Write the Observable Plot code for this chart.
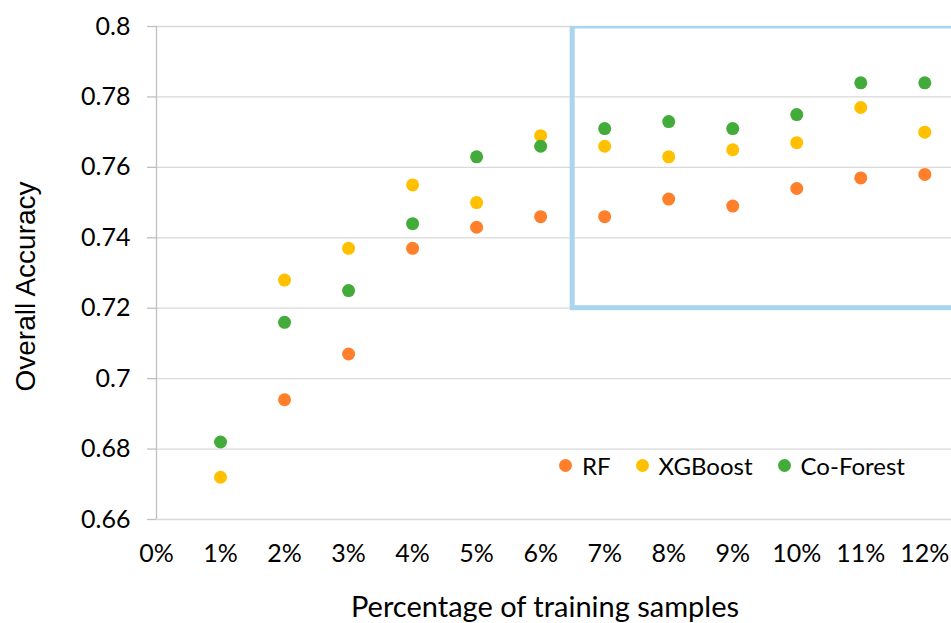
<!DOCTYPE html>
<html>
<head>
<meta charset="utf-8">
<script src="https://cdn.jsdelivr.net/npm/d3@7"></script>
<script src="https://cdn.jsdelivr.net/npm/@observablehq/plot@0.6"></script>
<style>
  html, body { margin: 0; padding: 0; background: #fff; }
  #wrap { position: relative; width: 951px; height: 623px; overflow: hidden; font-family: Lato, "Open Sans", sans-serif; }
  #legend { position: absolute; left: 559px; top: 451px; display: flex; align-items: center; font-size: 24px; color: #000; white-space: nowrap; }
  #legend .item { display: flex; align-items: center; margin-right: 25px; }
  #legend .sw { width: 13px; height: 13px; border-radius: 50%; margin-right: 10px; }
</style>
</head>
<body>
<div id="wrap"></div>
<script>
// ---- data ----
const percents = [1, 2, 3, 4, 5, 6, 7, 8, 9, 10, 11, 12];
const rfValues      = [null, 0.694, 0.707, 0.737, 0.743, 0.746, 0.746, 0.751, 0.749, 0.754, 0.757, 0.758];
const xgboostValues = [0.672, 0.728, 0.737, 0.755, 0.750, 0.769, 0.766, 0.763, 0.765, 0.767, 0.777, 0.770];
const coForestValues= [0.682, 0.716, 0.725, 0.744, 0.763, 0.766, 0.771, 0.773, 0.771, 0.775, 0.784, 0.784];
const seriesNames = ["RF", "XGBoost", "Co-Forest"];
const seriesColors = ["#ff7f2a", "#ffc000", "#43ab3a"];
const xTicks = [0, 1, 2, 3, 4, 5, 6, 7, 8, 9, 10, 11, 12];
const xTickLabels = ["0%", "1%", "2%", "3%", "4%", "5%", "6%", "7%", "8%", "9%", "10%", "11%", "12%"];
const yTicks = [0.66, 0.68, 0.70, 0.72, 0.74, 0.76, 0.78, 0.80];
const yTickLabels = ["0.66", "0.68", "0.7", "0.72", "0.74", "0.76", "0.78", "0.8"];
const highlight = [{x1: 6.5, x2: 13.5, y1: 0.72, y2: 0.80}];
const xTitle = "Percentage of training samples";
const yTitle = "Overall Accuracy";

// ---- build table ----
const allSeries = [rfValues, xgboostValues, coForestValues];
const points = [];
allSeries.forEach((vals, si) => {
  vals.forEach((v, i) => {
    if (v != null) points.push({x: percents[i], y: v, series: seriesNames[si]});
  });
});

const W = 951, H = 623;
const chart = Plot.plot({
  width: W,
  height: H,
  marginLeft: 156,
  marginRight: 0,
  marginTop: 26,
  marginBottom: 104,
  x: {domain: [0, 12.417]},
  y: {domain: [0.66, 0.80]},
  color: {domain: seriesNames, range: seriesColors},
  style: {fontFamily: "Lato, 'Open Sans', sans-serif", fontSize: "25px", color: "#000", background: "#fff", overflow: "visible"},
  marks: [
    Plot.gridY(yTicks, {stroke: "#d9d9d9", strokeOpacity: 1, strokeWidth: 1.3}),
    Plot.ruleX([0], {stroke: "#bfbfbf", strokeWidth: 1.3}),
    Plot.axisY(yTicks, {tickSize: 9, tickPadding: 17, stroke: "#bfbfbf", strokeWidth: 1.3, strokeOpacity: 1,
      tickFormat: (d) => yTickLabels[yTicks.indexOf(d)], label: null, fill: "#000"}),
    Plot.axisX(xTicks, {tickSize: 0, tickPadding: 25, tickFormat: (d) => xTickLabels[xTicks.indexOf(d)], label: null, fill: "#000"}),
    Plot.rect(highlight, {x1: "x1", x2: "x2", y1: "y1", y2: "y2", fill: "none", stroke: "#a9d5ee", strokeWidth: 5, clip: true}),
    Plot.dot(points, {x: "x", y: "y", fill: "series", r: 6.5, stroke: "none"})
  ]
});

const wrap = document.getElementById("wrap");
wrap.appendChild(chart);

// axis titles
const svg = d3.select(chart);
svg.append("text")
  .attr("x", 545)
  .attr("y", 617)
  .attr("text-anchor", "middle")
  .attr("font-family", "Lato, 'Open Sans', sans-serif")
  .attr("font-size", 29)
  .attr("fill", "#000")
  .text(xTitle);
svg.append("text")
  .attr("transform", "translate(35,286.5) rotate(-90)")
  .attr("text-anchor", "middle")
  .attr("font-family", "'Liberation Sans', Arial, sans-serif")
  .attr("font-size", 28)
  .attr("fill", "#000")
  .text(yTitle);

// legend
const legend = document.createElement("div");
legend.id = "legend";
seriesNames.forEach((name, i) => {
  const item = document.createElement("div");
  item.className = "item";
  const sw = document.createElement("span");
  sw.className = "sw";
  sw.style.background = seriesColors[i];
  const t = document.createElement("span");
  t.textContent = name;
  item.appendChild(sw);
  item.appendChild(t);
  legend.appendChild(item);
});
wrap.appendChild(legend);
</script>
</body>
</html>
